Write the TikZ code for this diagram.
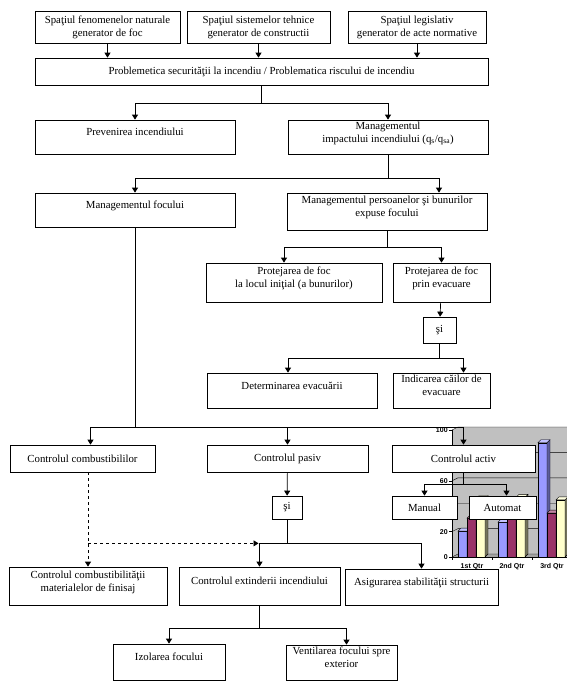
\documentclass[tikz,border=0pt]{standalone}
\usepackage{fontspec}
\setmainfont{Liberation Serif}
\newfontfamily\chartfont{Liberation Sans}
\usetikzlibrary{arrows.meta}

\definecolor{wall}{HTML}{C0C0C0}
\definecolor{serA}{HTML}{9999FF}
\definecolor{serB}{HTML}{993366}
\definecolor{serC}{HTML}{FFFFCC}

% one 3D column of the background chart: x, value, front colour, side colour
\newcommand{\colbar}[4]{%
  \pgfmathsetmacro\bartop{557-1.27*#2}
  \filldraw[bar, fill=#3] (#1,\bartop) rectangle (#1+9,557);
  \filldraw[bar, fill=#4] (#1+9,\bartop) -- ++(3,-3) -- (#1+12,554) -- (#1+9,557) -- cycle;
  \filldraw[bar, fill=#3!60!white] (#1,\bartop) -- ++(3,-3) -- ++(9,0) -- (#1+9,\bartop) -- cycle;
}

\begin{document}
\begin{tikzpicture}[
  x=1pt, y=-1pt,
  >={Triangle[length=5pt,width=6pt]},
  line width=0.7pt,
  box/.style={draw, fill=white, align=center, inner sep=1pt, font=\fontsize{10.8}{13}\selectfont},
  sz/.style 2 args={minimum width=#1pt, minimum height=#2pt},
  up/.style={text depth=10pt},
  bar/.style={draw=black, line width=0.4pt},
  ax/.style={font=\chartfont\bfseries\fontsize{7}{8}\selectfont, inner sep=0pt}
]
\useasboundingbox (0,0) rectangle (567,691);

% chart lying behind the lower right part
\begin{scope}
  \clip (425,420) rectangle (567,600);
  \fill[wall] (458,427) rectangle (570,554);
  \fill[wall] (452,430) -- (458,427) -- (458,554) -- (452,557) -- cycle;
  \fill[wall!85!black] (452,557) -- (458,554) -- (570,554) -- (570,557) -- cycle;
  \foreach \v in {0,20,...,100} {
    \draw[line width=0.4pt] (452,{557-1.27*\v}) -- (458,{554-1.27*\v}) -- (570,{554-1.27*\v});
    \draw[line width=0.4pt] (449,{557-1.27*\v}) -- (452,{557-1.27*\v});
  }
  % 40 and 80 lie under the boxes
  \foreach \v in {0,20,60,100}
    \node[ax, anchor=east] at (448,{557-1.27*\v}) {\v};
  \foreach \c/\va/\vb/\vc in {0/20.4/30.6/45.9, 1/27.4/38.6/46.9, 2/90/34.6/45} {
    \colbar{458+40*\c}{\va}{serA}{serA!60!black}
    \colbar{467+40*\c}{\vb}{serB}{serB!60!black}
    \colbar{476+40*\c}{\vc}{serC}{serC!45!black}
  }
  \draw[line width=0.5pt] (452,430) -- (452,557) -- (570,557);
  \foreach \t in {452,492,532} \draw[line width=0.4pt] (\t,557) -- (\t,560);
  \node[ax] at (472,567) {1st Qtr};
  \node[ax] at (512,567) {2nd Qtr};
  \node[ax] at (552,567) {3rd Qtr};
\end{scope}

% boxes
\node[box, sz={145}{32}] (spnat)   at (107.5,27)  {Spaţiul fenomenelor naturale\\generator de foc};
\node[box, sz={143}{32}] (sptech)  at (258.5,27)  {Spaţiul sistemelor tehnice\\generator de constructii};
\node[box, sz={138}{32}] (splegis) at (417,27)    {Spaţiul legislativ\\generator de acte normative};
\node[box, sz={453}{27}] (problem) at (261.5,71.5) {Problemetica securităţii la incendiu / Problematica riscului de incendiu};

\node[box, up, sz={200}{34}] (prev)   at (135,137) {Prevenirea incendiului};
\node[box, up, sz={200}{34}] (impact) at (388,137) {Managementul\\impactului incendiului (q\textsubscript{s}/q\textsubscript{sa})};
\node[box, up, sz={200}{34}] (mfoc)   at (135,210) {Managementul focului};
\node[box, up, sz={200}{37}] (mpers)  at (387,211.5) {Managementul persoanelor şi bunurilor\\expuse focului};

\node[box, up, sz={176}{39}] (plocal) at (294,282.5)   {Protejarea de foc\\la locul iniţial (a bunurilor)};
\node[box, up, sz={97}{39}]  (pevac)  at (441.5,282.5) {Protejarea de foc\\prin evacuare};
\node[box, sz={33}{26}]      (si1)    at (439.5,330)   {şi};
\node[box, up, sz={170}{35}] (determ) at (292,390.5)   {Determinarea evacuării};
\node[box, up, sz={97}{35}]  (indic)  at (441.5,390.5) {Indicarea căilor de\\evacuare};

\node[box, sz={145}{27}] (ccomb)   at (82.5,458.5)  {Controlul combustibililor};
\node[box, sz={161}{27}] (cpasiv)  at (287.5,458.5) {Controlul pasiv};
\node[box, sz={143}{27}] (cactiv)  at (463.5,458.5) {Controlul activ};
\node[box, sz={65}{23}]  (manual)  at (424.5,507.5) {Manual};
\node[box, sz={67}{23}]  (automat) at (502.5,507.5) {Automat};
\node[box, sz={30}{23}]  (si2)     at (287,507.5)   {şi};

\node[box, up, sz={158}{38}] (ccmat) at (88,586)    {Controlul combustibilităţii\\materialelor de finisaj};
\node[box, up, sz={161}{38}] (cext)  at (259.5,586) {Controlul extinderii incendiului};
\node[box, up, sz={153}{36}] (astab) at (421.5,587) {Asigurarea stabilităţii structurii};
\node[box, up, sz={112}{36}] (izol)  at (169,662)   {Izolarea focului};
\node[box, up, sz={111}{35}] (vent)  at (341.5,662.5) {Ventilarea focului spre\\exterior};

% connectors
\foreach \n in {spnat,sptech,splegis} \draw[->] (\n) -- (\n |- problem.north);

\draw (problem.south) -- ++(0,18) coordinate (j1);
\draw[->] (j1) -| (prev);
\draw[->] (j1) -| (impact);

\draw (impact.south) -- ++(0,24) coordinate (j2);
\draw[->] (j2) -| (mfoc);
\draw[->] (j2) -| ([xshift=52pt]mpers.north);

\draw (mpers.south) -- ++(0,17) coordinate (j3);
\draw[->] (j3) -| ([xshift=-10pt]plocal.north);
\draw[->] (j3) -| (pevac);
\draw[->] (pevac) -- (si1);
\draw (si1.south) -- ++(0,15) coordinate (j4);
\draw[->] (j4) -| ([xshift=-4pt]determ.north);
\draw[->] (j4) -| ([xshift=22pt]indic.north);

\draw (mfoc.south) -- ++(0,200) coordinate (j5);
\draw[->] (j5) -| ([xshift=8pt]ccomb.north);
\draw[->] (j5) -| (cpasiv);
\draw[->] (j5) -| (cactiv);

\draw (cactiv.south) -- ++(0,12) coordinate (j6);
\draw[->] (j6) -| (manual);
\draw[->] (j6) -| ([xshift=4pt]automat.north);

\draw[->] (cpasiv) -- (si2);
\draw (si2.south) -- ++(0,24) coordinate (j7);
\draw[->] (j7) -| (cext);
\draw[->] (j7) -| (astab);

% dashed links from the fuel control
\draw[dashed, ->] (ccomb.south -| ccmat.north) -- (ccmat.north);
\draw[dashed, ->] (ccmat.north |- j7) -- ([xshift=-1pt]cext.north |- j7);

\draw (cext.south) -- ++(0,23) coordinate (j8);
\draw[->] (j8) -| (izol);
\draw[->] (j8) -| ([xshift=5pt]vent.north);

\end{tikzpicture}
\end{document}
